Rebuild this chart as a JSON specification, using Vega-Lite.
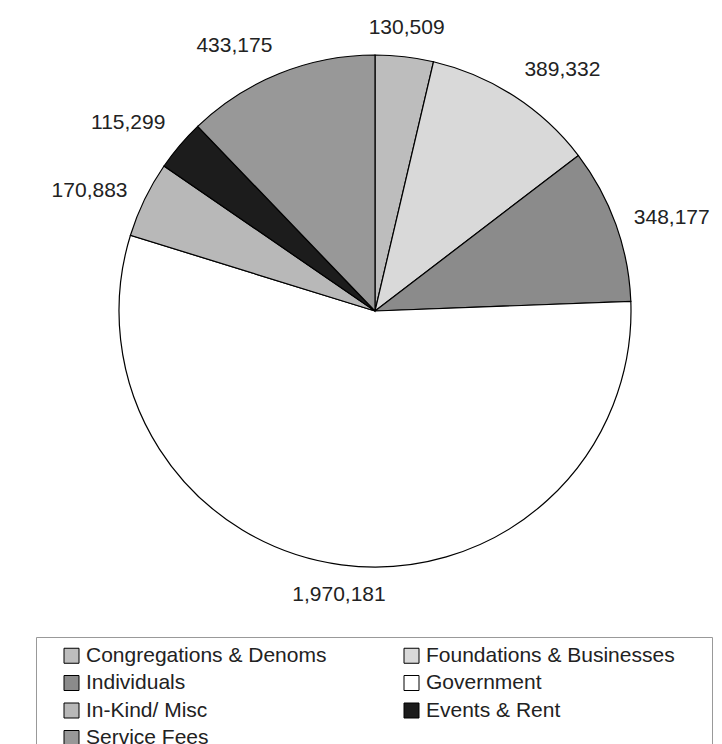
{
  "$schema": "https://vega.github.io/schema/vega-lite/v6.json",
  "width": 694,
  "height": 622,
  "autosize": {"type": "none"},
  "padding": {"left": 28, "top": 0, "right": 0, "bottom": 122},
  "background": "#ffffff",
  "config": {"view": {"stroke": null}, "font": "Liberation Sans"},
  "data": {
    "values": [
      {"idx": 1, "cat": "Congregations & Denoms", "v": 130509},
      {"idx": 2, "cat": "Foundations & Businesses", "v": 389332},
      {"idx": 3, "cat": "Individuals", "v": 348177},
      {"idx": 4, "cat": "Government", "v": 1970181},
      {"idx": 5, "cat": "In-Kind/ Misc", "v": 170883},
      {"idx": 6, "cat": "Events & Rent", "v": 115299},
      {"idx": 7, "cat": "Service Fees", "v": 433175}
    ]
  },
  "layer": [
    {
      "mark": {"type": "arc", "radius": 256, "stroke": "#000000", "strokeWidth": 1.2},
      "encoding": {
        "theta": {"field": "v", "type": "quantitative", "stack": true},
        "order": {"field": "idx", "type": "quantitative"},
        "color": {
          "field": "cat",
          "type": "nominal",
          "scale": {
            "domain": ["Congregations & Denoms", "Individuals", "In-Kind/ Misc", "Service Fees", "Foundations & Businesses", "Government", "Events & Rent"],
            "range": ["#bdbdbd", "#8b8b8b", "#b8b8b8", "#989898", "#d9d9d9", "#ffffff", "#1c1c1c"]
          },
          "legend": {
            "orient": "none",
            "legendX": 8,
            "legendY": 637,
            "columns": 2,
            "title": null,
            "symbolType": "square",
            "symbolSize": 225,
            "symbolStrokeColor": "#000000",
            "symbolStrokeWidth": 1,
            "labelFontSize": 21,
            "labelFont": "Liberation Sans",
            "labelColor": "#222222",
            "labelLimit": 500,
            "labelOffset": 4,
            "labelExpr": "datum.label + '\u00a0\u00a0\u00a0\u00a0\u00a0\u200b'",
            "strokeColor": "#999999",
            "fillColor": "#ffffff",
            "padding": 8,
            "rowPadding": 5.5,
            "columnPadding": 28,
            "symbolOffset": 17
          }
        }
      }
    },
    {
      "mark": {
        "type": "text",
        "radius": 275,
        "fontSize": 21,
        "font": "Liberation Sans",
        "fill": "#222222",
        "align": {"expr": "sin(scale('theta', 0.5 * datum.v_start + 0.5 * datum.v_end)) > 0.3 ? 'left' : (sin(scale('theta', 0.5 * datum.v_start + 0.5 * datum.v_end)) < -0.3 ? 'right' : 'center')"},
        "baseline": {"expr": "cos(scale('theta', 0.5 * datum.v_start + 0.5 * datum.v_end)) > 0.45 ? 'bottom' : (cos(scale('theta', 0.5 * datum.v_start + 0.5 * datum.v_end)) < -0.45 ? 'top' : 'middle')"}
      },
      "encoding": {
        "theta": {"field": "v", "type": "quantitative", "stack": true},
        "order": {"field": "idx", "type": "quantitative"},
        "text": {"field": "v", "type": "quantitative", "format": ","}
      }
    }
  ]
}
